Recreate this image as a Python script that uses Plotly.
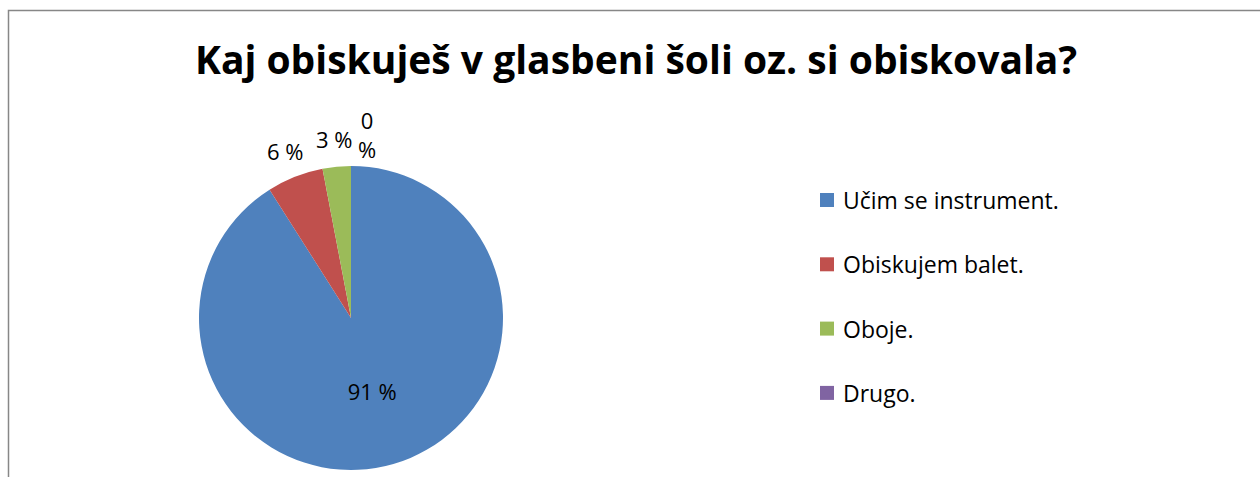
import math
import plotly.graph_objects as go

W, H = 1260, 477

# Survey answers and their shares (percent)
categories = ["Učim se instrument.", "Obiskujem balet.", "Oboje.", "Drugo."]
values = [91, 6, 3, 0]
colors = ["#4F81BD", "#C0504D", "#9BBB59", "#8064A2"]
title_text = "Kaj obiskuješ v glasbeni šoli oz. si obiskovala?"

FONT = "Open Sans"
LABEL_SIZE = 22


def px_x(x):
    return x / W


def px_y(y):
    return 1 - y / H


# Pie geometry in pixels
cx, cy, r = 351, 318, 152

# Largest slice carries its label inside; the small ones get labels outside
big = values.index(max(values))
templates = ["%{value} %" if i == big else "" for i in range(len(values))]
positions = ["inside" if i == big else "none" for i in range(len(values))]

fig = go.Figure(
    go.Pie(
        labels=categories,
        values=values,
        sort=False,
        direction="clockwise",
        rotation=0,
        marker=dict(colors=colors, line=dict(width=0)),
        texttemplate=templates,
        textposition=positions,
        insidetextorientation="horizontal",
        textfont=dict(family=FONT, size=LABEL_SIZE, color="#000000"),
        domain=dict(x=[px_x(cx - r), px_x(cx + r)], y=[px_y(cy + r), px_y(cy - r)]),
        showlegend=False,
        hoverinfo="label+value",
    )
)

# Outside labels for the small slices, placed at each slice's mid-angle
# (clockwise from 12 o'clock) and nudged right when they would collide.
total = float(sum(values))
cum = 0.0
label_r = 180
outside = []
for i, v in enumerate(values):
    start = cum
    cum += v
    if i == big:
        continue
    mid = (start + cum) / 2 / total * 2 * math.pi
    lx = cx + label_r * math.sin(mid)
    ly = cy - label_r * math.cos(mid)
    if v == 0:
        text = f"{v}<br>%"
        half_w = 0.42 * LABEL_SIZE
    else:
        text = f"{v} %"
        half_w = 0.55 * LABEL_SIZE * len(text) / 2 + 1
    outside.append(dict(text=text, lx=lx, ly=ly, half_w=half_w))

outside.sort(key=lambda a: a["lx"])
for j in range(1, len(outside)):
    a, b = outside[j - 1], outside[j]
    min_x = a["lx"] + a["half_w"] + 5 + b["half_w"]
    if b["lx"] < min_x:
        b["lx"] = min_x
        b["ly"] = min(b["ly"], a["ly"]) - 4

annotations = [
    dict(
        text=a["text"], xref="paper", yref="paper",
        x=px_x(a["lx"]), y=px_y(a["ly"]), xanchor="center", yanchor="middle",
        showarrow=False, font=dict(family=FONT, size=LABEL_SIZE, color="#000000"),
    )
    for a in outside
]

# Chart frame
shapes = [
    dict(
        type="rect", xref="paper", yref="paper",
        x0=px_x(8.5), x1=1.02, y0=-0.02, y1=px_y(10.5),
        line=dict(color="#878787", width=1.5), fillcolor="rgba(0,0,0,0)",
        layer="below",
    )
]

# Legend drawn as squares plus text to the right of the pie
leg_x, leg_y0, leg_dy, sq = 820, 200, 64.3, 14
for i, (name, col) in enumerate(zip(categories, colors)):
    yc = leg_y0 + i * leg_dy
    shapes.append(dict(
        type="rect", xref="paper", yref="paper",
        x0=px_x(leg_x), x1=px_x(leg_x + sq),
        y0=px_y(yc + sq / 2), y1=px_y(yc - sq / 2),
        fillcolor=col, line=dict(width=0),
    ))
    annotations.append(dict(
        text=name, xref="paper", yref="paper",
        x=px_x(841), y=px_y(yc), xanchor="left", yanchor="middle",
        showarrow=False, font=dict(family=FONT, size=23, color="#000000"),
    ))

fig.update_layout(
    width=W, height=H,
    margin=dict(l=0, r=0, t=0, b=0),
    paper_bgcolor="white", plot_bgcolor="white",
    title=dict(
        text=f"<b>{title_text}</b>",
        x=px_x(636), xanchor="center",
        y=px_y(60), yanchor="middle", yref="container",
        font=dict(family=FONT, size=39, color="#000000"),
    ),
    shapes=shapes,
    annotations=annotations,
)

fig.write_html("out.html")
